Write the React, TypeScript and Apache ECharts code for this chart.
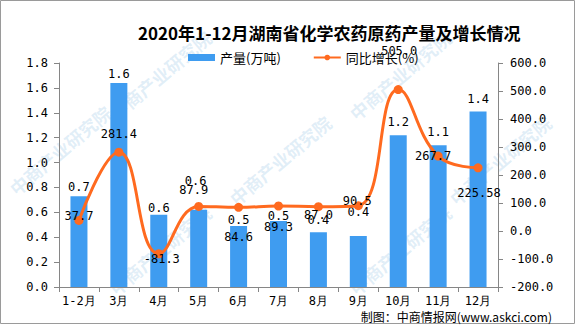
import React, { useEffect, useRef } from "react";
import * as echarts from "echarts";

const categories = ["1-2月", "3月", "4月", "5月", "6月", "7月", "8月", "9月", "10月", "11月", "12月"];
const output = [0.73, 1.64, 0.58, 0.62, 0.49, 0.53, 0.44, 0.41, 1.22, 1.14, 1.41];
const growth = [37.7, 281.4, -81.3, 87.9, 84.6, 89.3, 87.0, 90.5, 505.0, 267.7, 225.58];
const leftTicks = { min: 0, max: 1.8, interval: 0.2 };
const rightTicks = { min: -200, max: 600, interval: 100 };

// label placement tweaks (layout only)
const barLabelShift = [2, 2.5, 4, -18, 5, 6, -1, -13, -2, -2, -1.5];
const barLabelShiftX = [0, 0, 0, -3, 0, 0, 0, 0, 0, 0, 0];
const lineLabelShift = [-4, -18, 5, -16, 30, 21, 8, -5, -39, 0, 25];
const lineLabelShiftX = [0, 0, 3, -5, 0, 0, 0, -1, 1, -5, 1];

const fmtGrowth = (v: number) =>
  Math.abs(v * 10 - Math.round(v * 10)) < 1e-6 ? v.toFixed(1) : String(v);

const MONO = "'DejaVu Sans Mono', monospace";
const CJK = "'Noto Sans CJK SC', sans-serif";

export default function App() {
  const ref = useRef<HTMLDivElement>(null);
  useEffect(() => {
    if (!ref.current) return;
    const chart = echarts.init(ref.current, null, { renderer: "svg" });
    const wm: any[] = [];
    const wmPos = [
      [160, 75], [400, 75], [60, 150], [280, 160], [500, 160],
      [160, 250], [400, 250],
    ];
    wmPos.forEach(([x, y]) => {
      wm.push({
        type: "text",
        x,
        y,
        rotation: (40 * Math.PI) / 180,
        z: -10,
        silent: true,
        style: {
          text: "中商产业研究院",
          fill: "rgba(150,195,230,0.28)",
          font: "bold 18px 'Noto Sans CJK SC'",
          align: "center",
          verticalAlign: "middle",
        },
      });
    });
    chart.setOption({
      animation: false,
      backgroundColor: "#fff",
      title: {
        text: "2020年1-12月湖南省化学农药原药产量及增长情况",
        left: 133,
        top: 19,
        textStyle: { fontFamily: CJK, fontSize: 17, fontWeight: "bold", color: "#000" },
      },
      legend: {
        left: 183,
        top: 46,
        itemWidth: 27,
        itemHeight: 7,
        itemGap: 32,
        textStyle: { fontFamily: CJK, fontSize: 13, color: "#000" },
        data: [
          { name: "产量(万吨)", icon: "rect" },
          { name: "同比增长(%)" },
        ],
      },
      grid: { left: 59, right: 78, top: 63, bottom: 39 },
      xAxis: {
        type: "category",
        data: categories,
        axisLine: { lineStyle: { color: "#868686" } },
        axisTick: { show: true, length: 5, lineStyle: { color: "#868686" } },
        axisLabel: { color: "#000", fontFamily: MONO, fontSize: 12, margin: 8, interval: 0 },
      },
      yAxis: [
        {
          type: "value",
          ...leftTicks,
          axisLine: { show: true, lineStyle: { color: "#868686" } },
          axisTick: { show: true, length: 5, lineStyle: { color: "#868686" } },
          splitLine: { show: false },
          axisLabel: {
            color: "#000",
            fontFamily: MONO,
            fontSize: 12,
            margin: 11,
            formatter: (v: number) => v.toFixed(1),
          },
        },
        {
          type: "value",
          ...rightTicks,
          axisLine: { show: true, lineStyle: { color: "#868686" } },
          axisTick: { show: true, length: 5, lineStyle: { color: "#868686" } },
          splitLine: { show: false },
          axisLabel: {
            color: "#000",
            fontFamily: MONO,
            fontSize: 12,
            margin: 12,
            formatter: (v: number) => v.toFixed(1),
          },
        },
      ],
      series: [
        {
          name: "产量(万吨)",
          type: "bar",
          barWidth: 17,
          itemStyle: { color: "#3F9CF0" },
          data: output.map((v, i) => ({
            value: v,
            label: { offset: [barLabelShiftX[i], barLabelShift[i]] },
          })),
          label: {
            show: true,
            position: "top",
            distance: 5,
            color: "#000",
            fontFamily: MONO,
            fontSize: 12,
            formatter: (p: any) => Number(p.value).toFixed(1),
          },
          z: 2,
        },
        {
          name: "同比增长(%)",
          type: "line",
          yAxisIndex: 1,
          smooth: 0.45,
          symbol: "circle",
          symbolSize: 9,
          itemStyle: { color: "#FF6A1F" },
          lineStyle: { color: "#FF6A1F", width: 3 },
          data: growth.map((v, i) => ({
            value: v,
            label: { offset: [lineLabelShiftX[i], lineLabelShift[i]] },
          })),
          label: {
            show: true,
            position: "inside",
            color: "#000",
            fontFamily: MONO,
            fontSize: 12,
            formatter: (p: any) => fmtGrowth(Number(p.value)),
          },
          z: 3,
        },
      ],
      graphic: [
        ...wm,
        {
          type: "rect",
          shape: { x: 0.5, y: 0.5, width: 574, height: 323 },
          style: { fill: "none", stroke: "#9a9a9a", lineWidth: 1 },
          silent: true,
          z: 100,
        },
        {
          type: "text",
          right: 24,
          top: 310,
          style: {
            text: "制图：中商情报网(www.askci.com)",
            fill: "#000",
            font: "12px 'Noto Sans CJK SC'",
          },
          z: 100,
        },
      ],
    });
    return () => chart.dispose();
  }, []);
  return (
    <div
      ref={ref}
      style={{ position: "fixed", left: 0, top: 0, width: 576, height: 326 }}
    />
  );
}
